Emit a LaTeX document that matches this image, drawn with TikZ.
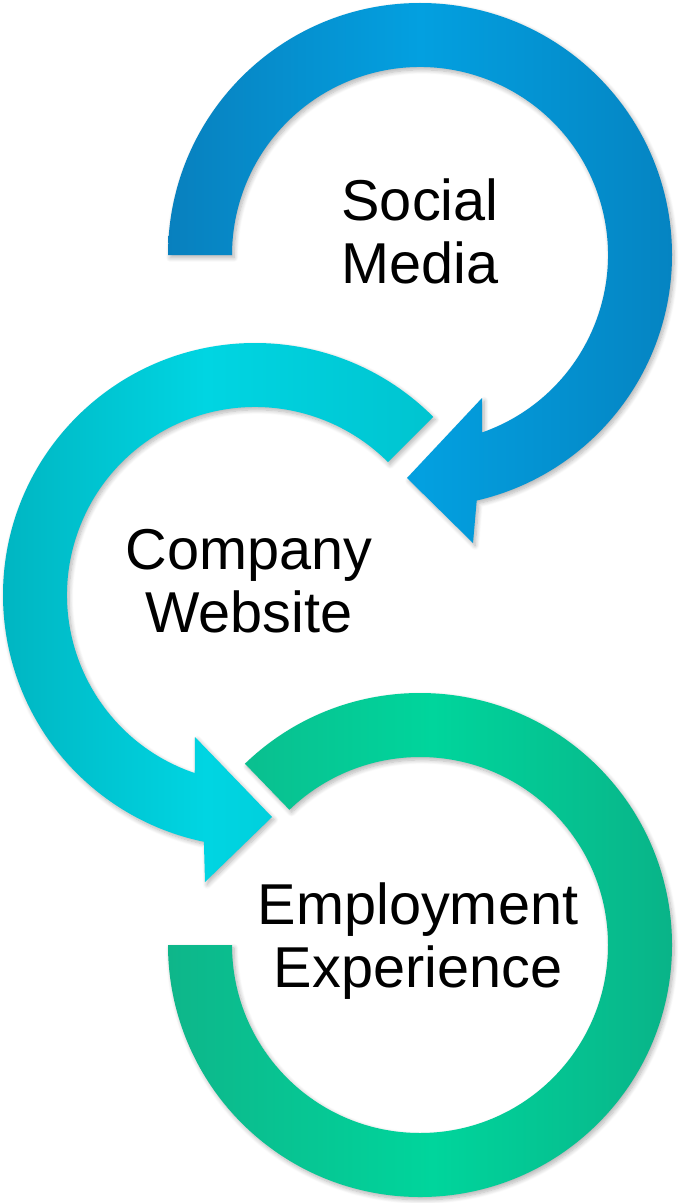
\documentclass[tikz,border=0pt]{standalone}
\usepackage{fontspec}
\setmainfont{Liberation Sans}
\usetikzlibrary{calc, shadows.blur}

\definecolor{blueL}{RGB}{8,128,190}
\definecolor{blueM}{RGB}{3,160,224}
\definecolor{blueR}{RGB}{5,132,194}
\definecolor{cyanL}{RGB}{0,178,190}
\definecolor{cyanM}{RGB}{0,213,226}
\definecolor{cyanR}{RGB}{0,196,208}
\definecolor{greenL}{RGB}{14,182,138}
\definecolor{greenM}{RGB}{0,213,156}
\definecolor{greenR}{RGB}{10,176,134}

\begin{document}
\begin{tikzpicture}[
    x=0.02cm, y=0.02cm, % one unit is one pixel of the layout
    % Styles
    ringshadow/.style={ % soft shadow under each ring
        blur shadow={shadow xshift=1.2pt, shadow yshift=-1.6pt,
            shadow blur steps=8, shadow blur radius=2.5pt, shadow opacity=30}
    },
    ringblue/.style={
        ringshadow,
        left color=blueL, right color=blueR, middle color=blueM
    },
    ringcyan/.style={
        ringshadow,
        left color=cyanL, right color=cyanR, middle color=cyanM
    },
    ringgreen/.style={
        ringshadow,
        left color=greenL, right color=greenR, middle color=greenM
    },
    ringtext/.style={ % Text inside a ring
        align=center,
        inner sep=0pt,
        font=\fontsize{32.8}{35.5}\selectfont
    }
]
    \useasboundingbox (0,0) rectangle (679,-1203);

    % Ring centres
    \coordinate (cs) at (420,-255);
    \coordinate (cw) at (255,-595);
    \coordinate (ce) at (420,-945);

    % Social media: clockwise arrow ending at the left
    \path[ringblue] ([shift={(180:252)}]cs) arc[start angle=180, end angle=-77, radius=252]
        -- (473,-543) -- (407,-478) -- (482,-398)
        -- ([shift={(-70.7:188)}]cs) arc[start angle=-70.7, end angle=180, radius=188] -- cycle;

    % Company website: counter-clockwise arrow pointing right
    \path[ringcyan] ([shift={(45:252)}]cw) arc[start angle=45, end angle=258.3, radius=252]
        -- (205,-882) -- (272,-817) -- (195,-737)
        -- ([shift={(251.3:188)}]cw) arc[start angle=251.3, end angle=45, radius=188] -- cycle;

    % Employment experience: open ring, no head
    \path[ringgreen] ([shift={(134:252)}]ce) arc[start angle=134, end angle=-180, radius=252]
        -- ([shift={(180:188)}]ce) arc[start angle=-180, end angle=134, radius=188] -- cycle;

    % Labels
    \node[ringtext] (social) at (420,-231.5) {Social\\Media};
    \node[ringtext] (website) at (249,-581) {Company\\Website};
    \node[ringtext] (employ) at (418,-941) {Employment\\Experience};
\end{tikzpicture}
\end{document}
